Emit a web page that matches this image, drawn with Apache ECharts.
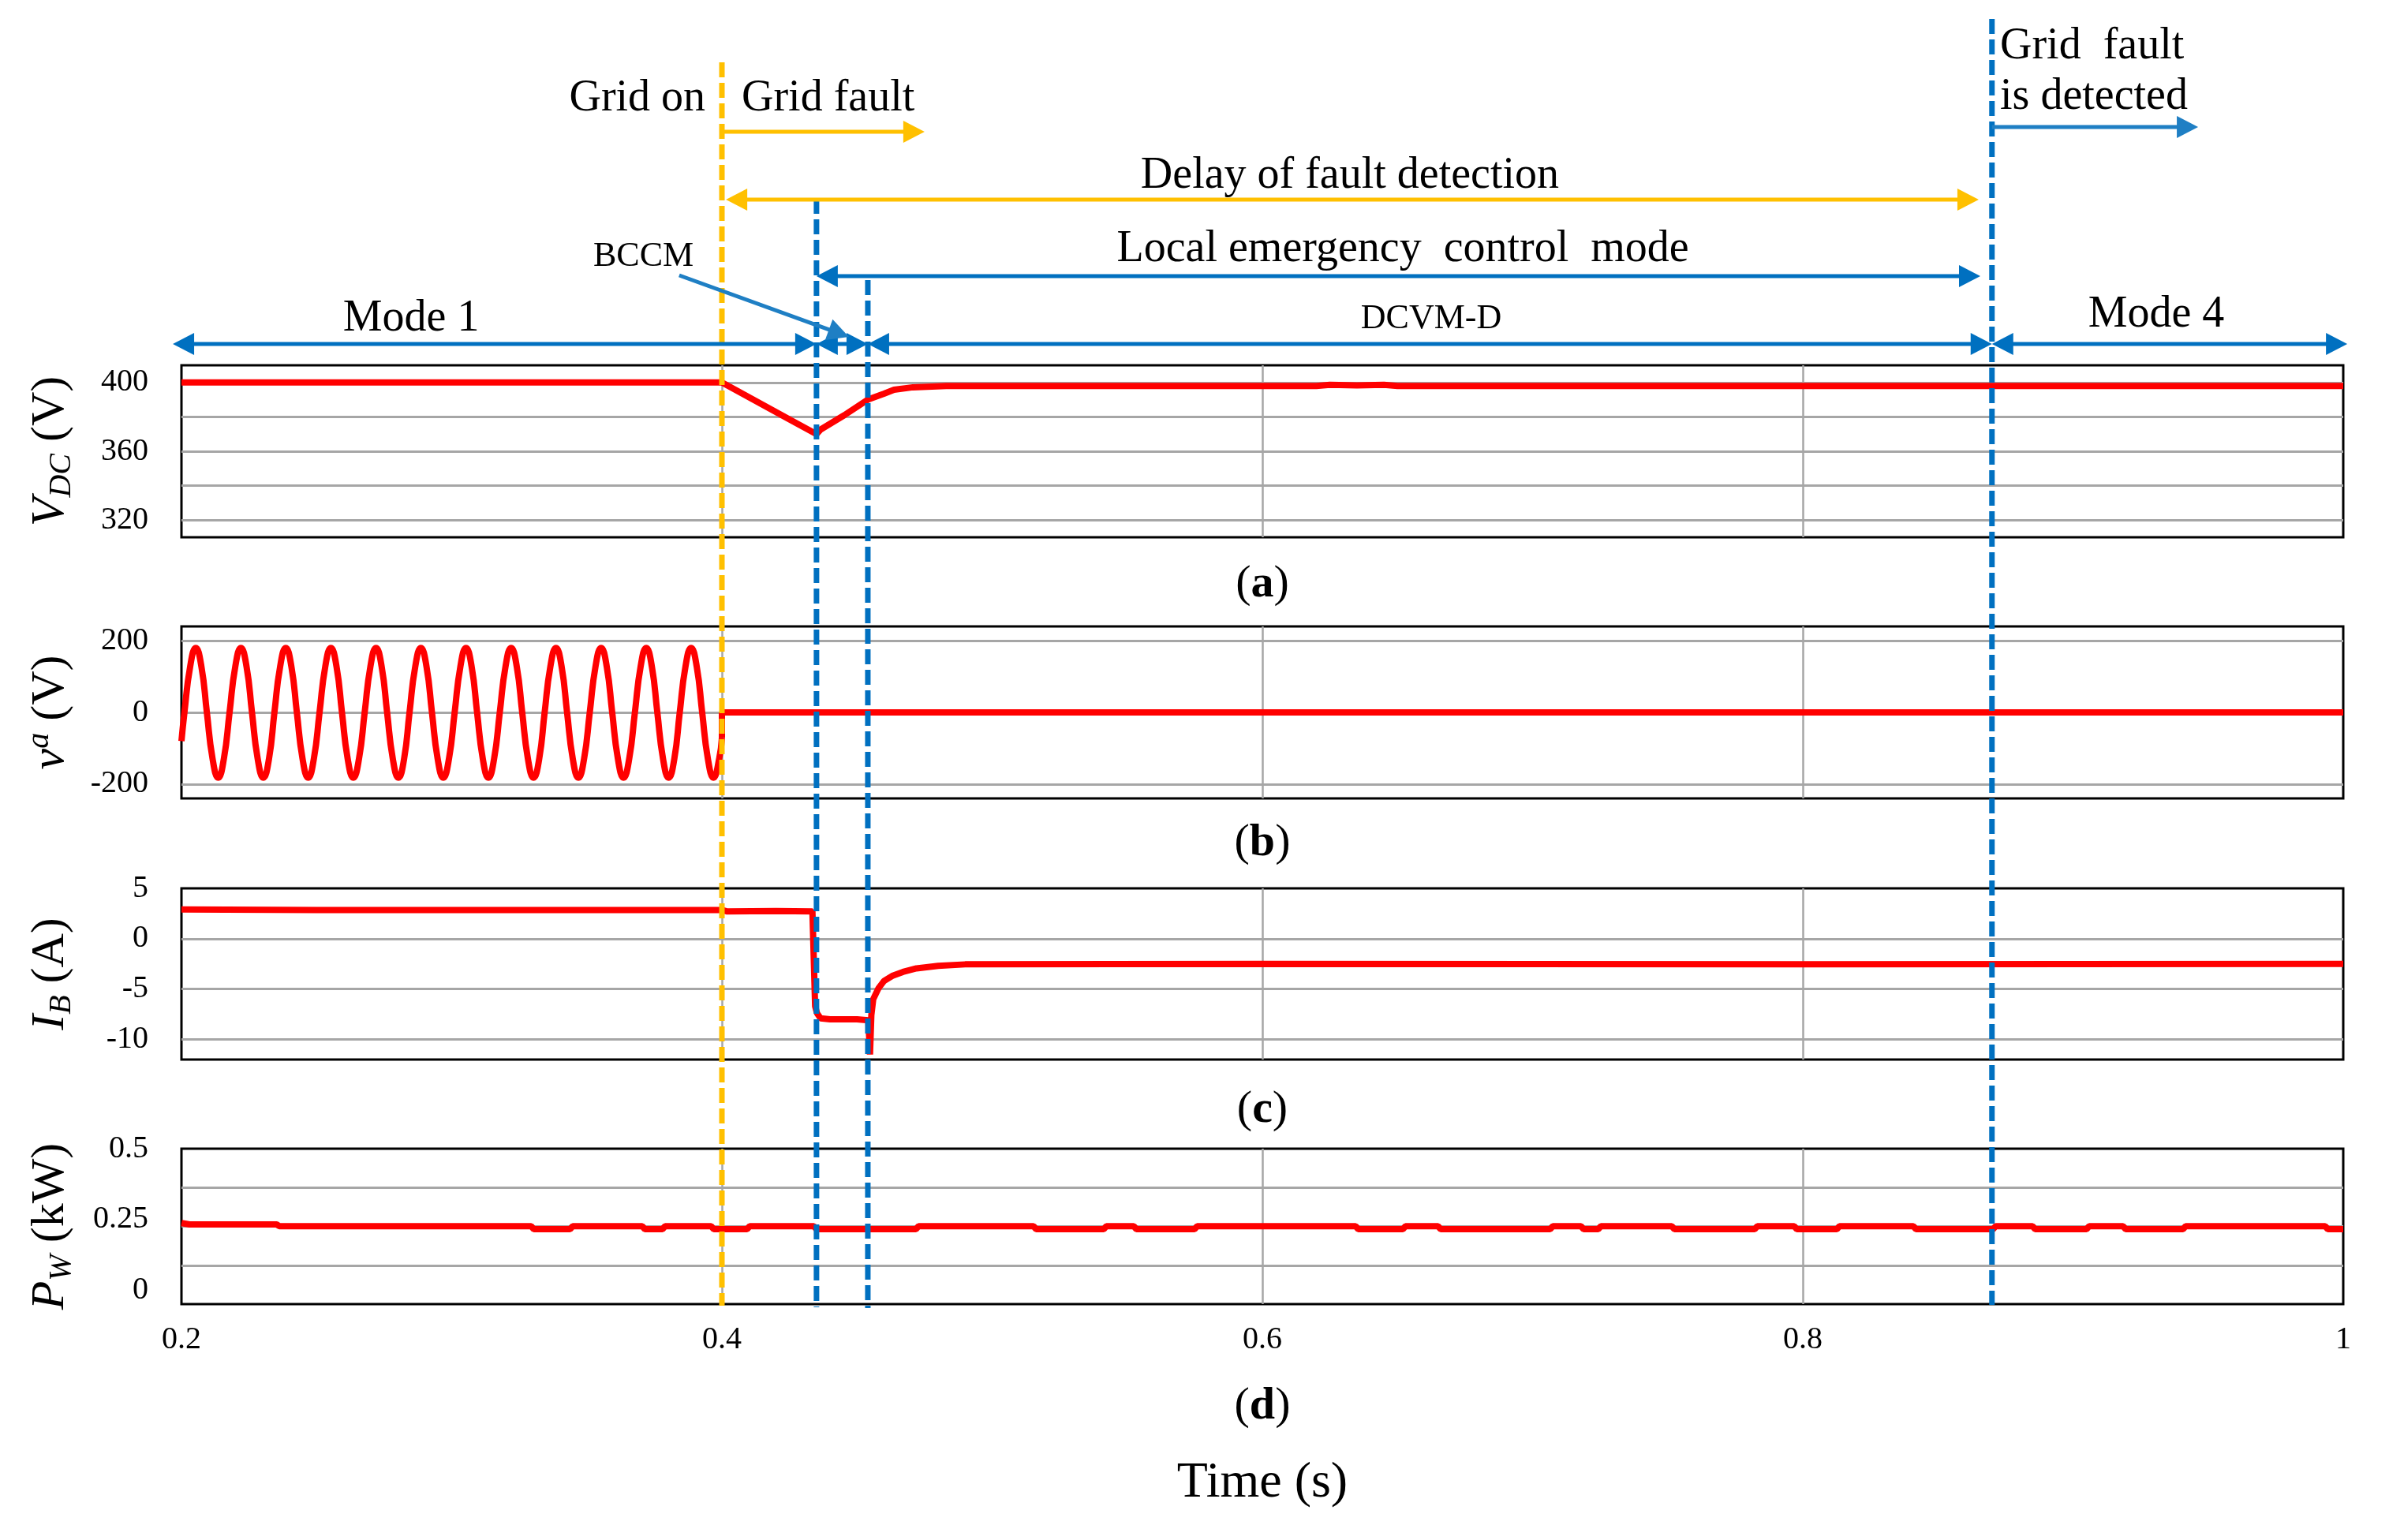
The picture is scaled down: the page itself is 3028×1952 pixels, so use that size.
<!DOCTYPE html>
<html><head><meta charset="utf-8">
<script src="https://cdn.jsdelivr.net/npm/echarts@6/dist/echarts.min.js"></script>
<style>html,body{margin:0;padding:0;background:#fff}#c{width:3028px;height:1952px}</style>
</head><body><div id="c"></div>
<script>
// ---------------- data ----------------
const timeTicks = [0.2, 0.4, 0.6, 0.8, 1.0];

const vdcData = [[0.2,400],[0.3,400],[0.4,400],[0.4248,378.7],[0.435,370],[0.4365,372.6],[0.4453,381],[0.454,390],[0.46,393.5],[0.4637,395.8],[0.4707,397.2],[0.483,398],[0.62,398],[0.625,398.6],[0.635,398.3],[0.645,398.6],[0.65,398],[1.0,398]];

const vaWave = [[0.2000,-80],
[0.2011,0],[0.2032,127],[0.2053,180],[0.2074,127],[0.2094,0],[0.2115,-129],[0.2136,-182],[0.2157,-129],
[0.2178,0],[0.2199,127],[0.2220,180],[0.2241,127],[0.2261,0],[0.2282,-129],[0.2303,-182],[0.2324,-129],
[0.2344,0],[0.2365,127],[0.2386,180],[0.2407,127],[0.2427,0],[0.2448,-129],[0.2469,-182],[0.2490,-129],
[0.2511,0],[0.2532,127],[0.2553,180],[0.2574,127],[0.2594,0],[0.2615,-129],[0.2636,-182],[0.2657,-129],
[0.2678,0],[0.2699,127],[0.2720,180],[0.2741,127],[0.2761,0],[0.2782,-129],[0.2803,-182],[0.2824,-129],
[0.2844,0],[0.2865,127],[0.2886,180],[0.2907,127],[0.2927,0],[0.2948,-129],[0.2969,-182],[0.2990,-129],
[0.3011,0],[0.3032,127],[0.3053,180],[0.3074,127],[0.3094,0],[0.3115,-129],[0.3136,-182],[0.3157,-129],
[0.3178,0],[0.3199,127],[0.3220,180],[0.3241,127],[0.3261,0],[0.3282,-129],[0.3303,-182],[0.3324,-129],
[0.3344,0],[0.3365,127],[0.3386,180],[0.3407,127],[0.3427,0],[0.3448,-129],[0.3469,-182],[0.3490,-129],
[0.3511,0],[0.3532,127],[0.3553,180],[0.3574,127],[0.3594,0],[0.3615,-129],[0.3636,-182],[0.3657,-129],
[0.3678,0],[0.3699,127],[0.3720,180],[0.3741,127],[0.3761,0],[0.3782,-129],[0.3803,-182],[0.3824,-129],
[0.3844,0],[0.3865,127],[0.3886,180],[0.3907,127],[0.3927,0],[0.3948,-129],[0.3969,-182],[0.3990,-129],
[0.4000,-71]];
const vaAfter = [[0.4,-71],[0.4,0],[1.0,0]];

const ibData = [[0.2,2.9],[0.25,2.85],[0.3,2.85],[0.35,2.85],[0.4,2.85],[0.402,2.7],[0.42,2.75],[0.4335,2.7],[0.4341,-3.0],[0.4345,-6.7],[0.4352,-7.4],[0.4365,-7.9],[0.44,-8.0],[0.45,-8.0],[0.4542,-8.1],[0.4548,-11.5],[0.4553,-7.6],[0.4560,-6.0],[0.4580,-4.9],[0.4600,-4.2],[0.4630,-3.7],[0.4670,-3.3],[0.4720,-2.95],[0.4800,-2.7],[0.4900,-2.55],[0.6,-2.5],[0.8,-2.55],[1.0,-2.5]];

const pwData = [[0.2,0.237],[0.203,0.232],[0.2352,0.232],[0.2362,0.226],
[0.3294,0.226],[0.3304,0.215],[0.3438,0.215],[0.3448,0.226],
[0.3705,0.226],[0.3715,0.215],[0.378,0.215],[0.379,0.226],
[0.396,0.226],[0.397,0.215],[0.4093,0.215],[0.4103,0.226],
[0.434,0.226],[0.435,0.215],[0.4718,0.215],[0.4728,0.226],
[0.5153,0.226],[0.5163,0.215],[0.5413,0.215],[0.5423,0.226],
[0.5524,0.226],[0.5534,0.215],[0.5749,0.215],[0.5759,0.226],
[0.6345,0.226],[0.6355,0.215],[0.652,0.215],[0.653,0.226],
[0.665,0.226],[0.666,0.215],[0.7065,0.215],[0.7075,0.226],
[0.7179,0.226],[0.7189,0.215],[0.7243,0.215],[0.7253,0.226],
[0.7515,0.226],[0.7525,0.215],[0.7822,0.215],[0.7832,0.226],
[0.7968,0.226],[0.7978,0.215],[0.8126,0.215],[0.8136,0.226],
[0.8409,0.226],[0.8419,0.215],[0.8704,0.215],[0.8714,0.226],
[0.885,0.226],[0.886,0.215],[0.905,0.215],[0.906,0.226],
[0.9185,0.226],[0.9195,0.215],[0.9407,0.215],[0.9417,0.226],
[0.9933,0.226],[0.9943,0.215],[1.0,0.215]];

const vdcGrid = [320,340,360,380,400], vdcLabels = [320,360,400];
const vaGrid = [-200,0,200], vaLabels = [-200,0,200];
const ibGrid = [-10,-5,0], ibLabels = [-10,-5,0,5];
const pwGrid = [0.0875,0.225,0.3625], pwLabels = [0,0.25,0.5];

const eventTimes = [0.4, 0.435, 0.454, 0.87];
const arrowSpans = [[0.4,0.475],[0.4015,0.8651],[0.435,0.8657],[0.1968,0.435],[0.435,0.454],[0.454,0.87],[0.87,1.0015],[0.87,0.9463],[0.3842,0.447]];
const noteTexts = ['Grid on','Grid fault','Delay of fault detection','Local emergency  control  mode','BCCM','Mode 1','DCVM-D','Mode 4','Grid  fault','is detected','({b|a})','({b|b})','({b|c})','({b|d})','Time (s)'];
const noteTimes = [0.3939,0.4073,0.6324,0.652,0.3524,0.285,0.6625,0.9308,0.873,0.873,0.6,0.6,0.6,0.6,0.6];

// ---------------- styles / layout ----------------
const FONT = '"Liberation Serif", "Times New Roman", serif';
const RED = '#FF0000', GRAY = '#a6a6a6', BLUE = '#0070C0', BLUE2 = '#1f7fc4', YEL = '#FFC000';
const eventStyle = [
  {top:79, bottom:1655, color:YEL},
  {top:252, bottom:1657, color:BLUE},
  {top:355, bottom:1658, color:BLUE},
  {top:24, bottom:1654, color:BLUE}
];
const arrowStyle = [
  {y1:167,y2:167,color:YEL,s:false,e:true},
  {y1:253,y2:253,color:YEL,s:true,e:true},
  {y1:350,y2:350,color:BLUE,s:true,e:true},
  {y1:436,y2:436,color:BLUE,s:true,e:true},
  {y1:436,y2:436,color:BLUE,s:true,e:true},
  {y1:436,y2:436,color:BLUE,s:true,e:true},
  {y1:436,y2:436,color:BLUE,s:true,e:true},
  {y1:161,y2:161,color:BLUE2,s:false,e:true},
  {y1:349,y2:427,color:BLUE2,s:false,e:true}
];
const subRich = {b:{fontWeight:'bold', fontSize:58, fontFamily:FONT, fill:'#000'}};
const noteStyle = [
  {y:125, align:'right', size:56},
  {y:125, align:'left', size:56},
  {y:223, align:'center', size:56},
  {y:316, align:'center', size:56},
  {y:325, align:'left', size:44},
  {y:404, align:'center', size:56},
  {y:404, align:'center', size:44},
  {y:399, align:'center', size:56},
  {y:59, align:'left', size:56},
  {y:123, align:'left', size:56},
  {y:741, align:'center', size:58, rich:subRich},
  {y:1069, align:'center', size:58, rich:subRich},
  {y:1407, align:'center', size:58, rich:subRich},
  {y:1783, align:'center', size:58, rich:subRich},
  {y:1880, align:'center', size:64}
];

const nameRich = {
  i:{fontStyle:'italic', fontSize:60, fontFamily:FONT, color:'#000'},
  sub:{fontStyle:'italic', fontSize:40, fontFamily:FONT, color:'#000', padding:[28,0,0,0], verticalAlign:'middle'},
  sup:{fontStyle:'italic', fontSize:40, fontFamily:FONT, color:'#000', padding:[0,0,28,0], verticalAlign:'middle'},
  n:{fontSize:60, fontFamily:FONT, color:'#000'}
};
const tickRich = {t:{fontFamily:FONT, fontSize:40, color:'#000'}};

function gridBox(top, height){
  return {left:230, right:58, top, height, show:true, borderColor:'#000', borderWidth:3, backgroundColor:'transparent', outerBoundsMode:'none', containLabel:false};
}
function xAx(g, showLabel){
  return {type:'value', gridIndex:g, min:timeTicks[0], max:timeTicks[timeTicks.length-1], interval:0.2,
    axisLine:{show:false}, axisTick:{show:false},
    axisLabel:{show:showLabel, fontFamily:FONT, fontSize:40, color:'#000', margin:25, rich:tickRich,
      formatter: v => '{t|' + String(Math.round(v*10)/10) + '}'},
    splitLine:{show:true, showMinLine:false, showMaxLine:false, lineStyle:{color:GRAY, width:2.5}}};
}
function yAx(g, min, max, gridVals, labelVals, name){
  return {type:'value', gridIndex:g, min, max,
    axisLine:{show:false},
    axisTick:{show:false, customValues:gridVals},
    axisLabel:{customValues:labelVals, fontFamily:FONT, fontSize:40, color:'#000', margin:42, rich:tickRich,
      formatter: v => '{t|' + String(v) + '}'},
    splitLine:{show:true, showMinLine:true, showMaxLine:true, lineStyle:{color:GRAY, width:3}},
    name, nameLocation:'middle', nameRotate:90, nameGap:132,
    nameTextStyle:{rich:nameRich, fontFamily:FONT, fontSize:60, color:'#000'}};
}
function lineSeries(idx, data, extra){
  return Object.assign({type:'line', xAxisIndex:idx, yAxisIndex:idx, data, symbol:'none', showSymbol:false,
    lineStyle:{color:RED, width:8}, itemStyle:{color:RED}, z:3, silent:true}, extra||{});
}
function head(tip, ux, uy, L, W, color){
  const bx = tip[0]-ux*L, by = tip[1]-uy*L;
  return {type:'polygon', shape:{points:[[tip[0],tip[1]],[bx-uy*W/2, by+ux*W/2],[bx+uy*W/2, by-ux*W/2]]}, style:{fill:color}};
}

const option = {
  animation:false,
  backgroundColor:'#fff',
  textStyle:{fontFamily:FONT, color:'#000'},
  grid:[gridBox(463,218), gridBox(794,218), gridBox(1126,217), gridBox(1456,197),
        {left:230, right:58, top:0, bottom:0, show:false, outerBoundsMode:'none', containLabel:false}],
  xAxis:[xAx(0,false), xAx(1,false), xAx(2,false), xAx(3,true),
         {type:'value', gridIndex:4, min:0.2, max:1, show:false}],
  yAxis:[
    yAx(0, 310, 410, vdcGrid, vdcLabels, '{i|V}{sub|DC}{n| (V)}'),
    yAx(1, -240, 240, vaGrid, vaLabels, '{i|v}{sup|a}{n| (V)}'),
    yAx(2, -12, 5, ibGrid, ibLabels, '{i|I}{sub|B}{n| (A)}'),
    yAx(3, -0.05, 0.5, pwGrid, pwLabels, '{i|P}{sub|W}{n| (kW)}'),
    {type:'value', gridIndex:4, min:0, max:1952, inverse:true, show:false}
  ],
  series:[
    lineSeries(0, vdcData),
    lineSeries(1, vaWave, {smooth:true}),
    lineSeries(1, vaAfter),
    lineSeries(2, ibData),
    lineSeries(3, pwData),
    {type:'custom', xAxisIndex:4, yAxisIndex:4, clip:false, z:20, silent:true,
     data: eventTimes.map((t,i)=>[t,i]),
     renderItem:(params, api)=>{
       const st = eventStyle[params.dataIndex];
       const p1 = api.coord([api.value(0), st.top]);
       const p2 = api.coord([api.value(0), st.bottom]);
       return {type:'line', shape:{x1:p1[0],y1:p1[1],x2:p2[0],y2:p2[1]}, style:{stroke:st.color, lineWidth:7, lineDash:[19,7]}};
     }},
    {type:'custom', xAxisIndex:4, yAxisIndex:4, clip:false, z:21, silent:true,
     data: arrowSpans.map(s=>[s[0], s[1]]),
     renderItem:(params, api)=>{
       const st = arrowStyle[params.dataIndex];
       const p1 = api.coord([api.value(0), st.y1]);
       const p2 = api.coord([api.value(1), st.y2]);
       const dx=p2[0]-p1[0], dy=p2[1]-p1[1], len=Math.hypot(dx,dy), ux=dx/len, uy=dy/len;
       const L=27, W=28;
       const a=[p1[0]+(st.s?ux*(L-4):0), p1[1]+(st.s?uy*(L-4):0)];
       const b=[p2[0]-(st.e?ux*(L-4):0), p2[1]-(st.e?uy*(L-4):0)];
       const children=[{type:'line', shape:{x1:a[0],y1:a[1],x2:b[0],y2:b[1]}, style:{stroke:st.color, lineWidth:5}}];
       if(st.s) children.push(head(p1,-ux,-uy,L,W,st.color));
       if(st.e) children.push(head(p2,ux,uy,L,W,st.color));
       return {type:'group', children};
     }},
    {type:'custom', xAxisIndex:4, yAxisIndex:4, clip:false, z:22, silent:true,
     data: noteTimes.map((t,i)=>[t,i]),
     renderItem:(params, api)=>{
       const st = noteStyle[params.dataIndex];
       const p = api.coord([api.value(0), st.y]);
       const style = {text:noteTexts[params.dataIndex], fill:'#000', fontFamily:FONT, fontSize:st.size,
                      align:st.align, verticalAlign:'middle'};
       if(st.rich) style.rich = st.rich;
       return {type:'text', x:p[0], y:p[1], style};
     }}
  ]
};
const chart = echarts.init(document.getElementById('c'), null, {renderer:'canvas'});
chart.setOption(option);
</script>
</body></html>
